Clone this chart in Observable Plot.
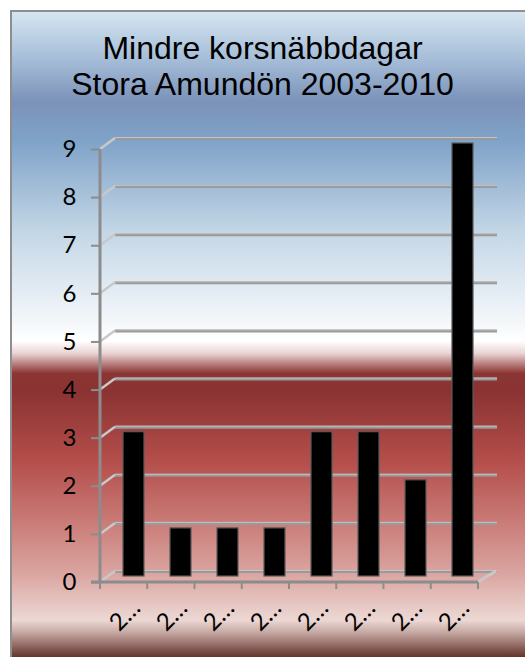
<!DOCTYPE html>
<html><head><meta charset="utf-8">
<script src="https://cdn.jsdelivr.net/npm/d3@7"></script>
<script src="https://cdn.jsdelivr.net/npm/@observablehq/plot@0.6"></script>
<style>
body{margin:0;background:#fff;}
#wrap{position:relative;width:525px;height:657px;overflow:hidden;}
#bg{position:absolute;left:10px;top:10px;width:515px;height:647px;box-sizing:border-box;border-top:2px solid #8e8e8e;border-left:2px solid #8e8e8e;
background:linear-gradient(to bottom,#d5e5f1 0%,#a3bbd6 7.7%,#7b92b9 13.9%,#80a3c8 20.1%,#c3d6e6 34%,#f3f7fa 47.9%,#ffffff 51%,#ead4d4 52.9%,#8c3634 56%,#8a3332 58.7%,#b44e4b 69.6%,#c97a76 78.8%,#dba6a2 87.3%,#ecd8d4 94.3%,#c8aaa4 96.1%,#62342c 100%);}
#title{position:absolute;left:10px;top:30px;width:505px;text-align:center;font-family:"Liberation Sans",Arial,sans-serif;font-size:32px;line-height:36px;color:#000;}
#chart{position:absolute;left:0;top:0;}
</style></head>
<body><div id="wrap"><div id="bg"></div><div id="title">Mindre korsnäbbdagar<br>Stora Amundön 2003-2010</div><div id="chart"></div></div>
<script>
const years = [2003, 2004, 2005, 2006, 2007, 2008, 2009, 2010];
const values = [3, 1, 1, 1, 3, 3, 2, 9];
const yTicks = [0, 1, 2, 3, 4, 5, 6, 7, 8, 9];
const data = years.map((year, i) => ({year, value: values[i]}));

const gridColor = "#9a9a9a";
const depthX = 15, depthY = -11;

function decorations(index, scales, values, dims) {
  const ns = "http://www.w3.org/2000/svg";
  const g = document.createElementNS(ns, "g");
  const line = (x1, y1, x2, y2, stroke, w) => {
    const l = document.createElementNS(ns, "line");
    l.setAttribute("x1", x1); l.setAttribute("y1", y1);
    l.setAttribute("x2", x2); l.setAttribute("y2", y2);
    l.setAttribute("stroke", stroke); l.setAttribute("stroke-width", w);
    g.appendChild(l);
  };
  const left = dims.marginLeft, right = dims.width - dims.marginRight;
  const y0 = scales.y(0), yTop = scales.y(yTicks[yTicks.length - 1]);
  for (const t of yTicks) {
    const y = scales.y(t);
    line(left, y, left + depthX, y + depthY, "#c8c8c8", 2.5);
  }
  line(right, y0, right + depthX + 3, y0 + depthY, "#c8c8c8", 3);
  line(left, yTop, left, y0 + 1, "#8c8c8c", 3);
  line(left - 9, y0, right, y0, "#8c8c8c", 3);
  const n = years.length;
  for (let i = 0; i <= n; i++) {
    const x = left + (right - left) * i / n;
    line(x, y0, x, y0 + 7, "#8c8c8c", 2);
  }
  return g;
}

const plot = Plot.plot({
  width: 525,
  height: 657,
  marginLeft: 100,
  marginRight: 47,
  marginTop: 149,
  marginBottom: 75,
  style: {background: "transparent", overflow: "visible"},
  x: {domain: years, paddingInner: 0.56, paddingOuter: 0.28, axis: null},
  y: {domain: [0, 9], axis: null},
  marks: [
    Plot.ruleY(yTicks, {stroke: gridColor, strokeWidth: 3, dx: depthX, dy: depthY, insetRight: -4}),
    Plot.ruleY(yTicks, {stroke: "#c4c4c4", strokeWidth: 1, dx: depthX, dy: depthY - 1, insetRight: -4}),
    decorations,
    Plot.axisY(yTicks, {tickSize: 9, tickPadding: 15, fontSize: 24, fontFamily: "Lato, 'Open Sans', sans-serif", fill: "#000", stroke: "#8c8c8c", strokeWidth: 2, label: null}),
    Plot.barY(data, {x: "year", y: "value", fill: "#000", stroke: "#5a5a5a", strokeWidth: 1.2, dx: 9, dy: -6}),
    Plot.text(data, {x: "year", y: () => 0, text: d => String(d.year)[0] + "\u2026", rotate: -45, dy: 33, dx: 0, fontSize: 24, fontFamily: "Lato, sans-serif", fill: "#000"})
  ]
});
document.getElementById("chart").appendChild(plot);
</script>
</body></html>
